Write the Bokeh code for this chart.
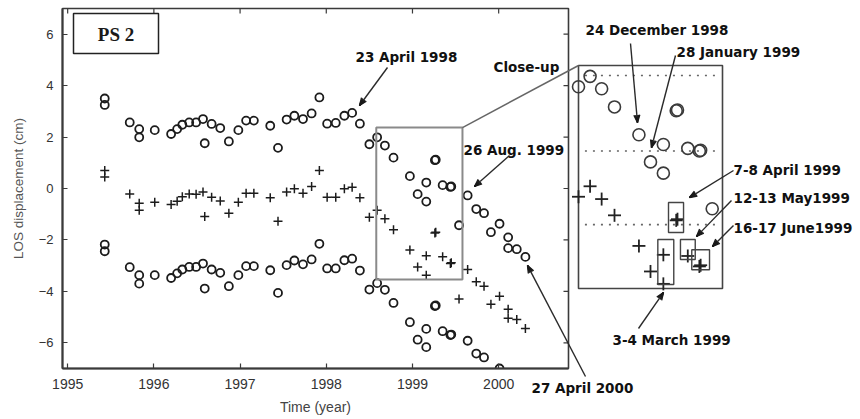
import math
from bokeh.plotting import figure
from bokeh.models import Range1d, LinearAxis, FixedTicker
from bokeh.core.properties import value
from bokeh.embed import file_html
from bokeh.resources import INLINE

# ---------------- data ----------------
X_TICKS = [1995, 1996, 1997, 1998, 1999, 2000]
Y_TICKS = [-6, -4, -2, 0, 2, 4, 6]

# upper circle series (LOS displacement, cm)
UP_X = [1995.43, 1995.43, 1995.72, 1995.83, 1995.83, 1996.01, 1996.20, 1996.27, 1996.33,
        1996.41, 1996.49, 1996.57, 1996.59, 1996.67, 1996.77, 1996.87, 1996.98, 1997.07,
        1997.16, 1997.35, 1997.44, 1997.54, 1997.63, 1997.73, 1997.83, 1997.92, 1998.01,
        1998.11, 1998.21, 1998.30, 1998.39, 1998.50, 1998.59, 1998.68, 1998.78, 1998.97,
        1999.06, 1999.16, 1999.16, 1999.26, 1999.27, 1999.35, 1999.44, 1999.45, 1999.54,
        1999.64, 1999.74, 1999.83, 1999.91, 2000.01, 2000.11, 2000.11, 2000.21, 2000.31]
UP_Y = [3.50, 3.25, 2.57, 2.31, 1.99, 2.27, 2.12, 2.31, 2.48,
        2.57, 2.57, 2.70, 1.76, 2.51, 2.35, 1.83, 2.27, 2.64,
        2.64, 2.44, 1.58, 2.68, 2.83, 2.70, 2.92, 3.54, 2.52,
        2.55, 2.83, 2.94, 2.52, 1.72, 1.99, 1.67, 1.20, 0.48,
        -0.22, 0.23, -0.51, 1.10, 1.12, 0.13, 0.06, 0.08, -1.43,
        -0.27, -0.80, -0.96, -1.70, -1.37, -1.90, -2.32, -2.36, -2.66]

# middle "+" series
PL_X = list(UP_X)
PL_Y = [0.70, 0.45, -0.21, -0.57, -0.85, -0.53, -0.62, -0.50, -0.32,
        -0.21, -0.22, -0.14, -1.09, -0.34, -0.49, -0.96, -0.53, -0.18,
        -0.18, -0.36, -1.27, -0.14, -0.01, -0.18, 0.08, 0.70, -0.34,
        -0.34, -0.01, 0.05, -0.36, -1.12, -0.85, -1.18, -1.60, -2.39,
        -3.05, -2.62, -3.37, -1.73, -1.70, -2.65, -2.92, -2.89, -4.30,
        -3.15, -3.63, -3.80, -4.50, -4.19, -4.70, -5.05, -5.09, -5.44]

# lower circle series
LO_X = [1995.43, 1995.43, 1995.72, 1995.83, 1995.83, 1996.01, 1996.20, 1996.27, 1996.33,
        1996.41, 1996.49, 1996.57, 1996.59, 1996.67, 1996.77, 1996.87, 1996.98, 1997.07,
        1997.16, 1997.35, 1997.44, 1997.54, 1997.63, 1997.73, 1997.83, 1997.92, 1998.01,
        1998.11, 1998.21, 1998.30, 1998.39, 1998.50, 1998.59, 1998.68, 1998.78, 1998.97,
        1999.06, 1999.16, 1999.16, 1999.26, 1999.27, 1999.35, 1999.44, 1999.45,
        1999.64, 1999.74, 1999.83, 2000.01]
LO_Y = [-2.18, -2.44, -3.06, -3.37, -3.70, -3.37, -3.48, -3.30, -3.15,
        -3.05, -3.05, -2.92, -3.89, -3.15, -3.28, -3.80, -3.37, -3.02,
        -3.02, -3.18, -4.06, -2.98, -2.80, -2.95, -2.76, -2.15, -3.11,
        -3.11, -2.79, -2.73, -3.19, -3.93, -3.68, -3.94, -4.45, -5.20,
        -5.88, -5.46, -6.17, -4.57, -4.55, -5.55, -5.70, -5.68,
        -5.92, -6.42, -6.57, -7.00]

# close-up window (data units) and reference levels
CLOSE_X = (1998.50, 1999.62)
CLOSE_Y = (-3.49, 2.27)
MAIN_BOX = (1998.58, 1999.58, -3.54, 2.37)
DOTTED_LEVELS = [2.01, 0.06, -1.84]
# boxes around tandem acquisitions in the close-up: (x0, x1, y0, y1)
TANDEM_BOXES = [(1999.200, 1999.317, -2.043, -1.268),
                (1999.117, 1999.241, -3.386, -2.224),
                (1999.293, 1999.408, -2.740, -2.224),
                (1999.381, 1999.519, -3.006, -2.490)]

# ---------------- layout ----------------
W, H = 860, 419
FL, FR, FT, FB = 62, 568, 8, 368          # frame in canvas px
X0, X1 = 1994.94, 2000.81
Y0, Y1 = -7.0, 7.0
CUP = (578, 65, 722, 288)                 # close-up panel, canvas px (l, t, r, b)


def mx(px):
    return X0 + (px - FL) * (X1 - X0) / (FR - FL)


def my(py):
    return Y1 - (py - FT) * (Y1 - Y0) / (FB - FT)


sx = (CLOSE_X[1] - CLOSE_X[0]) / (CUP[2] - CUP[0])
sy = (CLOSE_Y[1] - CLOSE_Y[0]) / (CUP[3] - CUP[1])
cx_start = CLOSE_X[0] + (FL - CUP[0]) * sx
cx_end = CLOSE_X[0] + (FR - CUP[0]) * sx
cy_end = CLOSE_Y[1] + (CUP[1] - FT) * sy
cy_start = CLOSE_Y[1] - (FB - CUP[1]) * sy

p = figure(width=W, height=H, x_range=Range1d(X0, X1), y_range=Range1d(Y0, Y1),
           output_backend="svg", toolbar_location=None,
           x_axis_type=None, y_axis_type=None,
           min_border_left=FL, min_border_right=W - FR, min_border_top=FT,
           min_border_bottom=H - FB)
p.extra_x_ranges = {"cx": Range1d(cx_start, cx_end)}
p.extra_y_ranges = {"cy": Range1d(cy_start, cy_end)}
p.xgrid.visible = False
p.ygrid.visible = False
p.outline_line_color = "#3a3a3a"
p.outline_line_width = 1.6
p.background_fill_color = "white"
p.border_fill_color = "white"

AX_COL = "#3a3a3a"


def style_axis(ax):
    ax.major_tick_in = 5
    ax.major_tick_out = 0
    ax.minor_tick_line_color = None
    ax.major_tick_line_color = AX_COL
    ax.major_tick_line_width = 1.2
    ax.axis_line_color = AX_COL
    ax.axis_line_width = 2
    ax.major_label_text_font = "Liberation Sans"
    ax.major_label_text_color = "#333333"
    ax.axis_label_text_font = "Liberation Sans"
    ax.axis_label_text_font_style = "normal"
    ax.axis_label_text_font_size = "14px"


left = LinearAxis(ticker=FixedTicker(ticks=Y_TICKS), axis_label="LOS displacement (cm)")
style_axis(left)
left.major_label_text_font_size = "13px"
left.major_label_standoff = 9
left.axis_label_text_font_size = "13.5px"
left.axis_label_text_color = "#555555"
left.axis_label_standoff = 10
p.add_layout(left, "left")

bottom = LinearAxis(ticker=FixedTicker(ticks=X_TICKS), axis_label="Time (year)")
style_axis(bottom)
bottom.major_label_text_font_size = "14px"
bottom.major_label_standoff = 10
bottom.axis_label_text_color = "#444444"
bottom.axis_label_standoff = 7
p.add_layout(bottom, "below")

# mirrored inward ticks on the top and right edges of the main frame
tick_dy = 5 * (Y1 - Y0) / (FB - FT)
tick_dx = 5 * (X1 - X0) / (FR - FL)
p.segment(x0=X_TICKS, x1=X_TICKS, y0=[Y1] * len(X_TICKS), y1=[Y1 - tick_dy] * len(X_TICKS),
          line_color=AX_COL, line_width=1.2)
p.segment(x0=[X1] * len(Y_TICKS), x1=[X1 - tick_dx] * len(Y_TICKS), y0=Y_TICKS, y1=Y_TICKS,
          line_color=AX_COL, line_width=1.2)

# ---------------- main data ----------------
MK = "#1c1c1c"
p.scatter(UP_X, UP_Y, marker="circle", size=8, fill_color=None, line_color=MK, line_width=1.8)
p.scatter(LO_X, LO_Y, marker="circle", size=8, fill_color=None, line_color=MK, line_width=1.8)
p.scatter(PL_X, PL_Y, marker="cross", size=9, line_color=MK, line_width=1.5)

# close-up region in the main plot
p.quad(left=[MAIN_BOX[0]], right=[MAIN_BOX[1]], bottom=[MAIN_BOX[2]], top=[MAIN_BOX[3]],
       fill_color=None, line_color="#8a8a8a", line_width=2)

# PS 2 label box
p.quad(left=[mx(73)], right=[mx(158)], bottom=[my(53)], top=[my(13)],
       fill_color=None, line_color="#222222", line_width=1.5)
p.text(x=[mx(115.5)], y=[my(34)], text=["PS 2"], text_align="center", text_baseline="middle",
       text_font=value("Liberation Serif"), text_font_style="bold", text_font_size="19px",
       text_color="#1a1a1a")

# ---------------- close-up panel (drawn beside the frame) ----------------
OV = dict(level="overlay")
CR = dict(x_range_name="cx", y_range_name="cy", level="overlay")


def in_close(x, y):
    return CLOSE_X[0] - 0.01 <= x <= CLOSE_X[1] and CLOSE_Y[0] <= y <= CLOSE_Y[1]


cu = [(x, y) for x, y in zip(UP_X, UP_Y) if in_close(x, y)]
cp = [(x, y) for x, y in zip(PL_X, PL_Y) if in_close(x, y)]
p.quad(left=[CLOSE_X[0]], right=[CLOSE_X[1]], bottom=[CLOSE_Y[0]], top=[CLOSE_Y[1]],
       fill_color="white", line_color="#444444", line_width=1.6, **CR)
p.segment(x0=[CLOSE_X[0] + 0.05] * 3, x1=[CLOSE_X[1] - 0.04] * 3, y0=DOTTED_LEVELS, y1=DOTTED_LEVELS,
          line_color="#666666", line_width=1.6, line_dash="2 6", **CR)
p.ellipse(x=[c[0] for c in cu], y=[c[1] for c in cu], width=12, height=12,
          width_units="screen", height_units="screen", fill_color=None,
          line_color="#3a3a3a", line_width=1.6, **CR)
hw, hh = 6.5 * sx, 6.5 * sy
p.segment(x0=[c[0] - hw for c in cp], x1=[c[0] + hw for c in cp], y0=[c[1] for c in cp],
          y1=[c[1] for c in cp], line_color="#222222", line_width=1.8, **CR)
p.segment(x0=[c[0] for c in cp], x1=[c[0] for c in cp], y0=[c[1] - hh for c in cp],
          y1=[c[1] + hh for c in cp], line_color="#222222", line_width=1.8, **CR)
p.quad(left=[b[0] for b in TANDEM_BOXES], right=[b[1] for b in TANDEM_BOXES],
       bottom=[b[2] for b in TANDEM_BOXES], top=[b[3] for b in TANDEM_BOXES],
       fill_color=None, line_color="#444444", line_width=1.4, **CR)

# connecting line: main box corner -> close-up panel corner
p.segment(x0=[MAIN_BOX[1]], y0=[MAIN_BOX[3]], x1=[mx(CUP[0])], y1=[my(CUP[1])],
          line_color="#666666", line_width=1.5, **OV)

# ---------------- annotations (canvas px) ----------------
ARROWS = [((387, 67), (359, 105)),
          ((509, 155), (474, 186)),
          ((585, 376), (527, 265)),
          ((630, 43), (637, 122)),
          ((675, 55), (651, 147)),
          ((733, 170), (689, 197)),
          ((731, 200), (696, 236)),
          ((733, 225), (712, 246)),
          ((638, 328), (663, 292))]
xs0, ys0, xs1, ys1 = [], [], [], []
fx0, fy0, fx1, fy1 = [], [], [], []
HEAD_L, HEAD_W, FAN = 7.5, 3.0, 7
for (ax0, ay0), (ax1, ay1) in ARROWS:
    dx, dy = ax1 - ax0, ay1 - ay0
    L = math.hypot(dx, dy)
    ux, uy = dx / L, dy / L
    bx, by = ax1 - ux * HEAD_L, ay1 - uy * HEAD_L
    xs0.append(mx(ax0)); ys0.append(my(ay0)); xs1.append(mx(bx)); ys1.append(my(by))
    px_, py_ = -uy, ux
    for k in range(FAN):
        t = (2.0 * k / (FAN - 1) - 1.0) * HEAD_W
        fx0.append(mx(ax1)); fy0.append(my(ay1))
        fx1.append(mx(bx + px_ * t)); fy1.append(my(by + py_ * t))
p.segment(x0=xs0, y0=ys0, x1=xs1, y1=ys1, line_color="#2a2a2a", line_width=1.4, **OV)
p.segment(x0=fx0, y0=fy0, x1=fx1, y1=fy1, line_color="#1a1a1a", line_width=1.3, **OV)

LABELS = [("23 April 1998", 355, 56),
          ("Close-up", 493, 66),
          ("26 Aug. 1999", 463, 149),
          ("27 April 2000", 531, 387),
          ("24 December 1998", 585, 29),
          ("28 January 1999", 676, 51),
          ("7-8 April 1999", 733, 169),
          ("12-13 May1999", 733, 197),
          ("16-17 June1999", 733, 227),
          ("3-4 March  1999", 612, 339)]
p.text(x=[mx(t[1]) for t in LABELS], y=[my(t[2]) for t in LABELS], text=[t[0] for t in LABELS],
       text_align="left", text_baseline="middle", text_font=value("DejaVu Sans"),
       text_font_style="bold", text_font_size="13.5px", text_color="#111111", **OV)

open("out.html", "w").write(file_html(p, INLINE))
